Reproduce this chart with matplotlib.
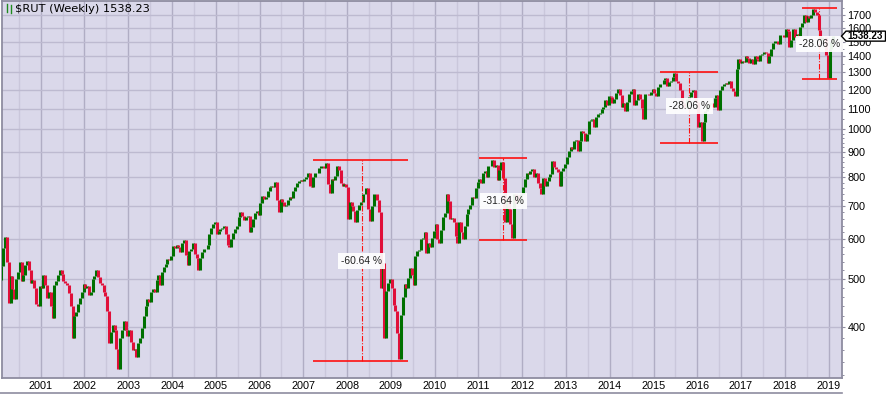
import numpy as np
import matplotlib.pyplot as plt
from matplotlib.ticker import FixedLocator, FuncFormatter, NullFormatter
from matplotlib.patches import Polygon
from matplotlib.lines import Line2D

# $RUT, two readings per month (mid-month, month end)
rut_2000 = [505, 497, 530, 577, 606, 540, 448, 506, 478, 455, 500, 517, 540, 496, 510, 534, 542, 521, 490, 497, 480, 445, 440, 484]
rut_2001 = [480, 510, 485, 458, 470, 440, 418, 485, 495, 510, 520, 512, 495, 490, 485, 468, 440, 380, 420, 428, 445, 457, 470, 488]
rut_2002 = [480, 483, 465, 470, 500, 506, 520, 505, 490, 486, 470, 462, 430, 372, 390, 404, 395, 362, 330, 380, 395, 412, 395, 383]
rut_2003 = [395, 373, 360, 362, 348, 372, 380, 398, 420, 441, 455, 449, 470, 478, 470, 497, 510, 487, 515, 528, 535, 547, 545, 556]
rut_2004 = [582, 576, 585, 580, 566, 590, 598, 559, 532, 568, 575, 591, 560, 551, 520, 551, 565, 573, 575, 584, 615, 634, 645, 652]
rut_2005 = [615, 624, 630, 634, 640, 615, 585, 579, 600, 617, 630, 640, 665, 680, 668, 657, 665, 668, 620, 637, 660, 677, 685, 673]
rut_2006 = [710, 733, 725, 731, 750, 765, 770, 765, 784, 721, 680, 725, 715, 701, 705, 721, 730, 726, 750, 764, 780, 788, 790, 788]
rut_2007 = [795, 800, 815, 770, 765, 801, 815, 815, 835, 842, 845, 834, 855, 777, 745, 793, 790, 806, 845, 828, 780, 768, 775, 766]
rut_2008 = [660, 713, 700, 686, 650, 688, 705, 715, 740, 742, 760, 690, 655, 700, 740, 740, 720, 680, 480, 538, 380, 473, 490, 500]
rut_2009 = [480, 443, 430, 389, 345, 423, 460, 488, 480, 502, 525, 508, 485, 557, 570, 572, 600, 604, 620, 563, 590, 580, 605, 625]
rut_2010 = [645, 602, 590, 628, 665, 679, 740, 717, 660, 664, 650, 610, 590, 651, 620, 602, 640, 676, 690, 703, 730, 727, 760, 784]
rut_2011 = [795, 781, 815, 824, 800, 844, 845, 865, 840, 848, 790, 827, 860, 797, 650, 727, 690, 644, 605, 741, 710, 737, 720, 741]
rut_2012 = [765, 793, 815, 811, 825, 830, 800, 817, 780, 762, 740, 799, 770, 787, 800, 812, 864, 838, 830, 819, 770, 822, 835, 849]
rut_2013 = [880, 902, 920, 911, 945, 952, 905, 948, 990, 984, 945, 978, 1040, 1045, 1050, 1011, 1060, 1074, 1080, 1100, 1110, 1143, 1120, 1164]
rut_2014 = [1160, 1131, 1150, 1183, 1205, 1173, 1110, 1127, 1090, 1135, 1175, 1193, 1205, 1120, 1145, 1174, 1150, 1102, 1050, 1174, 1175, 1173, 1190, 1205]
rut_2015 = [1180, 1165, 1215, 1233, 1230, 1253, 1265, 1220, 1245, 1247, 1275, 1295, 1250, 1239, 1200, 1130, 1115, 1101, 1150, 1162, 1185, 1198, 1150, 1136]
rut_2016 = [1010, 1035, 945, 1034, 1090, 1114, 1125, 1131, 1110, 1155, 1170, 1095, 1200, 1220, 1235, 1240, 1230, 1252, 1210, 1191, 1165, 1322, 1385, 1357]
rut_2017 = [1370, 1362, 1400, 1387, 1360, 1386, 1350, 1400, 1385, 1370, 1410, 1415, 1430, 1425, 1360, 1405, 1450, 1491, 1505, 1503, 1485, 1544, 1545, 1535]
rut_2018 = [1590, 1575, 1465, 1512, 1590, 1529, 1550, 1542, 1605, 1634, 1700, 1643, 1690, 1671, 1700, 1741, 1720, 1697, 1580, 1511, 1530, 1533, 1410, 1268]
rut_2019 = [1450, 1500, 1538.23]

last_price = 1538.23

# drawdown markup drawn on the chart
dd_peak = [866, 874, 1304, 1754]
dd_trough = [341, 598.5, 940, 1259]
dd_from = [2007.22, 2011.02, 2015.15, 2018.40]
dd_to = [2009.39, 2012.11, 2016.48, 2019.19]
dd_mark = [2008.33, 2011.57, 2015.82, 2018.79]
dd_label_y = [544, 718, 1113, 1486]
dd_text = ['-60.64 %', '-31.64 %', '-28.06 %', '-28.06 %']

year_ticks = list(range(2001, 2020))
price_ticks = [400, 500, 600, 700, 800, 900, 1000, 1100, 1200, 1300, 1400, 1500, 1600, 1700]

yearly = [rut_2000, rut_2001, rut_2002, rut_2003, rut_2004, rut_2005, rut_2006,
          rut_2007, rut_2008, rut_2009, rut_2010, rut_2011, rut_2012, rut_2013,
          rut_2014, rut_2015, rut_2016, rut_2017, rut_2018, rut_2019]

t, v = [], []
for k, vals in enumerate(yearly):
    for i, p in enumerate(vals):
        t.append(2000 + k + (i + 0.5) / 24)
        v.append(p)
t = np.array(t)
v = np.array(v)

W, H = 886, 395
fig = plt.figure(figsize=(W / 100, H / 100), dpi=100)
fig.patch.set_facecolor('white')
ax = fig.add_axes([2 / W, 17 / H, 840 / W, 377 / H])
ax.set_facecolor('#dad8ea')

# bars: previous close -> close, green up, red down
lo = np.minimum(v[:-1], v[1:])
hi = np.maximum(v[:-1], v[1:])
cols = np.where(v[1:] >= v[:-1], '#007000', '#e0103a')
ax.vlines(t[1:], lo, hi, colors=cols, lw=2.2, zorder=3)

# drawdown lines
ax.hlines(dd_peak, dd_from, dd_to, colors='#ff1010', lw=1.2, zorder=4)
ax.hlines(dd_trough, dd_from, dd_to, colors='#ff1010', lw=1.2, zorder=4)
ax.vlines(dd_mark, dd_trough, dd_peak, colors='#ff1010', lw=0.8,
          linestyles=(0, (5, 1.5, 1, 1.5)), zorder=4)
for x, y, s in zip(dd_mark, dd_label_y, dd_text):
    ax.text(x, y, s, ha='center', va='center', fontsize=7.4, family='Liberation Sans',
            color='#222222', zorder=6,
            bbox=dict(boxstyle='square,pad=0.3', fc='white', ec='none', alpha=0.92))

ax.set_yscale('log')
ax.set_ylim(315.9, 1810)
ax.set_xlim(2000.116, 2019.306)

ax.yaxis.set_major_locator(FixedLocator(price_ticks))
ax.yaxis.set_major_formatter(FuncFormatter(lambda p, pos: '%d' % p))
minor_y = [m for m in range(320, 1000, 20) if m % 100] + [m for m in range(1050, 1800, 50) if m % 100]
ax.yaxis.set_minor_locator(FixedLocator(minor_y))
ax.yaxis.set_minor_formatter(NullFormatter())
ax.yaxis.tick_right()

ax.set_xticks(year_ticks)
ax.set_xticklabels([str(y) for y in year_ticks])
ax.set_xticks([y + 0.5 for y in range(2000, 2019)], minor=True)

ax.tick_params(axis='x', which='both', length=0, pad=2.5, labelsize=7.8, labelcolor='black')
ax.tick_params(axis='y', which='major', length=2.5, width=0.8, pad=1.5, labelsize=7.8,
               color='#8e8ca0')
ax.tick_params(axis='y', which='minor', length=1.5, width=0.7, color='#8e8ca0')
for lab in ax.get_xticklabels() + ax.get_yticklabels():
    lab.set_family('Liberation Sans')

ax.set_axisbelow(True)
ax.grid(True, which='major', axis='x', color='#b0adc4', lw=1.0)
ax.grid(True, which='minor', axis='x', color='#cac7db', lw=1.0)
ax.grid(True, which='major', axis='y', color='#bdbad0', lw=1.0)

for sp in ax.spines.values():
    sp.set_color('#8e8ca0')
    sp.set_linewidth(1.3)

# title with little candle icon
fig.text(15 / W, 1 - 8.5 / H, '$RUT (Weekly) 1538.23', fontsize=8.2, family='DejaVu Sans',
         va='center', ha='left', color='black')
fig.add_artist(Line2D([6.5, 6.5], [H - 4, H - 12], color='#1f8a1f', lw=1.0, transform=None))
fig.add_artist(Line2D([10.5, 10.5], [H - 5, H - 13], color='#1f8a1f', lw=1.0, transform=None))

# last price tag on the right axis (covers most of the 1500 label, as in the original)
yc = ax.transData.transform((2019.0, last_price))[1]
tag = Polygon([[841.5, yc], [846, yc + 5], [885.5, yc + 5], [885.5, yc - 5], [846, yc - 5]],
              closed=True, fc='white', ec='black', lw=1.0, transform=None, zorder=10)
fig.add_artist(tag)
fig.text(865.5 / W, yc / H, '1538.23', fontsize=7.0, fontweight='bold', family='Liberation Sans',
         ha='center', va='center', color='black', zorder=11)

# top border of the panel below
fig.add_artist(Line2D([0, 842], [2.5, 2.5], color='#8e8ca0', lw=1.2, transform=None))

fig.savefig('out.png', dpi=100)
